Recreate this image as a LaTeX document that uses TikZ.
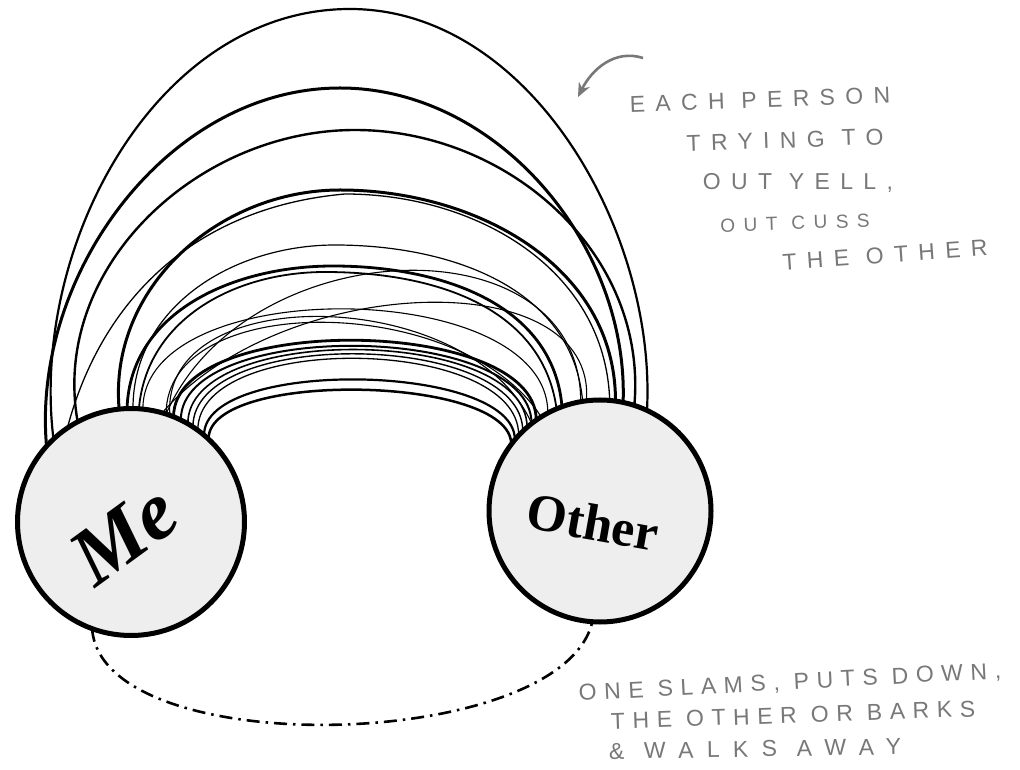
\documentclass[tikz,border=0pt]{standalone}
\usepackage{fontspec}
\setmainfont{Liberation Serif}
\newfontfamily\mebi{Liberation Serif Bold Italic}
\newfontfamily\othb{Liberation Serif Bold}
\newfontfamily\handfont[LetterSpace=45]{Liberation Sans}
\newfontfamily\handfontb[LetterSpace=33]{Liberation Sans}
\newfontfamily\handfontc[LetterSpace=58]{Liberation Sans}
\usetikzlibrary{arrows.meta}
\definecolor{handc}{RGB}{120,120,120}
\definecolor{discfill}{RGB}{238,238,238}
\begin{document}
\begin{tikzpicture}[x=1pt,y=1pt,
  disc/.style={circle,draw=black,line width=5pt,fill=discfill,inner sep=0pt},
  arcline/.style={line width=#1,black},
  arcline/.default=1.2pt,
  hand/.style={text=handc,font=\handfont\fontsize{23}{23}\selectfont,inner sep=0pt},
  dashdot/.style={line width=2.6pt,dash pattern=on 13pt off 6pt on 2.5pt off 6pt}]
\useasboundingbox (0,0) rectangle (1020,769);
\fill[white] (0,0) rectangle (1020,769);
% anchor carriers for the two discs
\path (131,247) node[minimum size=227pt,circle,inner sep=0pt] (me) {};
\path (600,258) node[minimum size=222pt,circle,inner sep=0pt] (other) {};
% outer arcs (two segments through the top point)
\draw[arcline=2.2pt] (me.133) to[out=97,in=180,looseness=0.95] (350,760) to[out=0,in=87,looseness=0.92] (other.65);
\draw[arcline=3pt] (me.138) to[out=95,in=180,looseness=0.95] (340,681) to[out=0,in=88,looseness=0.95] (other.78);
\draw[arcline=2.4pt] (me.118) to[out=100,in=180] (355,639) to[out=0,in=85] (other.72);
\draw[arcline=3pt] (me.96) to[out=95,in=180] (340,579) to[out=0,in=90] (other.82);
\draw[arcline=1.3pt] (me.124) to[out=75,in=185] (345,575) to[out=0,in=92] (other.85);
\draw[arcline=1.2pt] (me.89) to[out=90,in=180] (335,524) to[out=0,in=95] (other.99);
\draw[arcline=2.8pt] (me.92) to[out=88,in=180] (333,503) to[out=0,in=95] (other.110);
\draw[arcline=1.8pt] (me.86) to[out=85,in=180] (325,497) to[out=0,in=98] (other.113);
% middle and inner arcs
\draw[arcline=1.1pt] (me.74) .. controls +(120,139) and +(10,139) .. (other.97);
\draw[arcline=1.1pt] (me.72) .. controls +(80,183) and +(0,183) .. (other.100);
\draw[arcline=1.1pt] (me.84) .. controls +(0,136) and +(0,136) .. (other.118);
\draw[arcline=1.1pt] (me.72) .. controls +(0,124) and +(-80,124) .. (other.122);
\draw[arcline=2.8pt] (me.68) .. controls +(0,104) and +(0,104) .. (other.125);
\draw[arcline=2pt] (me.64) .. controls +(0,101) and +(0,101) .. (other.128);
\draw[arcline=1.6pt] (me.60) .. controls +(0,101) and +(0,101) .. (other.131);
\draw[arcline=1.4pt] (me.57) .. controls +(0,100) and +(0,100) .. (other.134);
\draw[arcline=1.3pt] (me.54) .. controls +(0,99) and +(0,99) .. (other.137);
\draw[arcline=1.1pt] (me.70) .. controls +(-10,137) and +(-60,137) .. (other.128);
\draw[arcline=2.2pt] (me.50) .. controls +(0,77) and +(0,77) .. (other.140);
\draw[arcline=2.5pt] (me.47) .. controls +(0,69) and +(0,69) .. (other.143);
% discs drawn over arc ends
\node[disc,minimum size=227pt] (meDisc) at (me.center) {};
\node[disc,minimum size=222pt] (otherDisc) at (other.center) {};
\node[font=\mebi\fontsize{82}{82}\selectfont,rotate=36] (metxt) at (124,234) {Me};
\node[font=\othb\fontsize{52}{52}\selectfont,rotate=-10] (othertxt) at (593,247) {Other};
% dash-dot bottom connector
\draw[dashdot] (me.250) .. controls +(10,-135) and +(-30,-130) .. (other.266);
% handwritten notes
\node[hand,rotate=2] (n1) at (760,669) {EACH PERSON};
\node[hand,rotate=2] (n2) at (785,629) {TRYING TO};
\node[hand] (n3) at (798,586) {OUT YELL,};
\node[hand,rotate=2,font=\handfont\fontsize{19}{19}\selectfont] (n4) at (795,546) {OUT CUSS};
\node[hand,rotate=4] (n5) at (885,514) {THE OTHER};
\node[hand,rotate=3,font=\handfontb\fontsize{23}{23}\selectfont] (b1) at (790,86) {ONE SLAMS, PUTS DOWN,};
\node[hand,rotate=2,font=\handfontb\fontsize{23}{23}\selectfont] (b2) at (793,54) {THE OTHER OR BARKS};
\node[hand,rotate=1,font=\handfontc\fontsize{23}{23}\selectfont] (b3) at (755,20) {\& WALKS AWAY};
% arrow
\coordinate (arrS) at (643,711);
\coordinate (arrE) at (578,672);
\draw[handc,line width=2.6pt,-{Stealth[length=14pt,width=12pt]}] (arrS) .. controls (615,720) and (592,700) .. (arrE);
\end{tikzpicture}
\end{document}
